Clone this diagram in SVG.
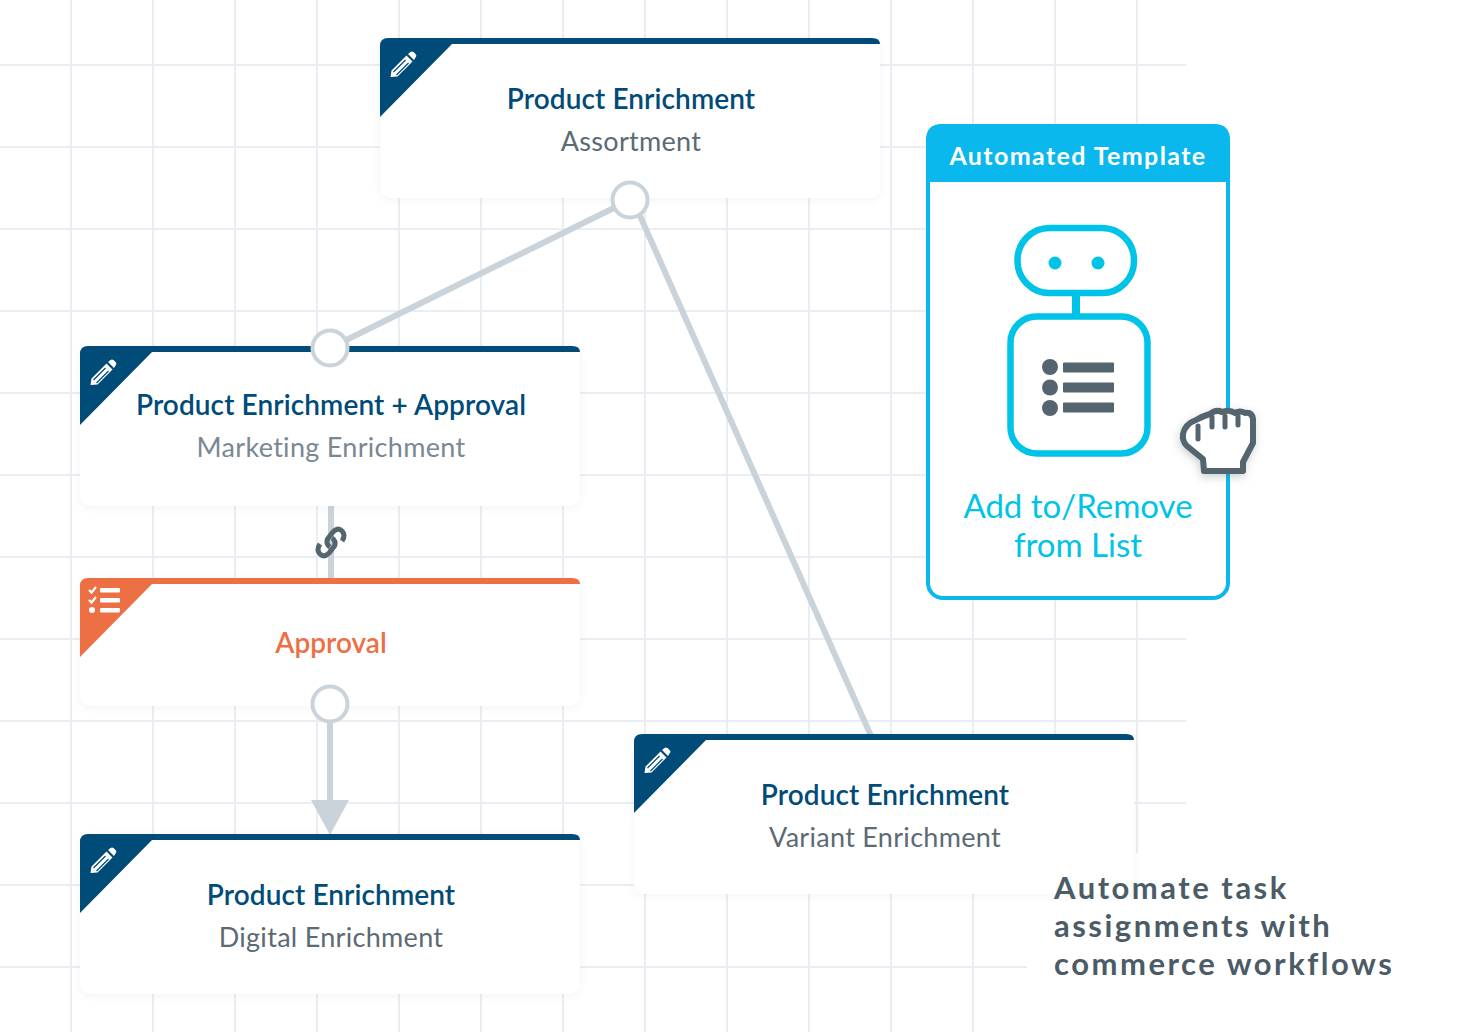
<svg xmlns="http://www.w3.org/2000/svg" width="1480" height="1032" viewBox="0 0 1480 1032">
<style>
text{font-family:"Lato","Liberation Sans",sans-serif;text-anchor:middle}
.grid line{stroke:#eaeef2;stroke-width:2}
.card{fill:#fff;filter:url(#soft)}
.t{font-size:28px;font-weight:600;fill:#004b78;letter-spacing:.1px}
.s{font-size:27px;fill:#5b6a74;letter-spacing:.3px}
.blue{fill:#004b78}
.conn{stroke:#c9d3d9;stroke-width:6;fill:none}
.port{fill:#fff;stroke:#c9d3d9;stroke-width:4}
.cy{stroke:#00c3e8;stroke-width:6.5;fill:#fff}
.gr{fill:#54656f}
.note{font-size:31px;font-weight:700;fill:#4b5c67;letter-spacing:2.5px;text-anchor:start}
.add{font-size:33px;fill:#00c3e8}
</style>
<defs>
<filter id="soft" x="-5%" y="-10%" width="110%" height="125%"><feDropShadow dx="0" dy="2" stdDeviation="3" flood-color="#5b6a74" flood-opacity="0.08"/></filter>
<filter id="hs" x="-30%" y="-30%" width="160%" height="160%"><feDropShadow dx="-1" dy="3" stdDeviation="4" flood-color="#54656f" flood-opacity="0.3"/></filter>
<g id="pencil"><path d="M-11,11 L-10,4.5 L5,-10.5 L11,-4.5 L-4,10.5 Z M6.5,-12 L9,-14 Q10.5,-15 12,-14 L14.5,-11.5 Q15.5,-10 14,-8.5 L12.5,-6 Z" fill="#fff"/><path d="M-8,6 L4,-6 M-5,9 L7,-3" stroke="#004b78" stroke-width="1.2" fill="none"/></g>
</defs>
<rect width="1480" height="1032" fill="#fff"/>
<g class="grid">
<line x1="71" y1="0" x2="71" y2="1032"/><line x1="153" y1="0" x2="153" y2="1032"/><line x1="235" y1="0" x2="235" y2="1032"/><line x1="317" y1="0" x2="317" y2="1032"/><line x1="399" y1="0" x2="399" y2="1032"/><line x1="481" y1="0" x2="481" y2="1032"/><line x1="563" y1="0" x2="563" y2="1032"/><line x1="645" y1="0" x2="645" y2="1032"/><line x1="727" y1="0" x2="727" y2="1032"/><line x1="809" y1="0" x2="809" y2="1032"/><line x1="891" y1="0" x2="891" y2="1032"/><line x1="973" y1="0" x2="973" y2="1032"/><line x1="1055" y1="0" x2="1055" y2="1032"/><line x1="1137" y1="0" x2="1137" y2="1032"/>
<line x1="0" y1="65" x2="1186" y2="65"/><line x1="0" y1="147" x2="1186" y2="147"/><line x1="0" y1="229" x2="1186" y2="229"/><line x1="0" y1="311" x2="1186" y2="311"/><line x1="0" y1="393" x2="1186" y2="393"/><line x1="0" y1="475" x2="1186" y2="475"/><line x1="0" y1="557" x2="1186" y2="557"/><line x1="0" y1="639" x2="1186" y2="639"/><line x1="0" y1="721" x2="1186" y2="721"/><line x1="0" y1="803" x2="1186" y2="803"/><line x1="0" y1="885" x2="1186" y2="885"/><line x1="0" y1="967" x2="1186" y2="967"/>
</g>
<rect x="1027" y="853" width="453" height="179" fill="#fff"/>

<g id="connectors">
<line class="conn" x1="630" y1="200" x2="330" y2="348"/>
<line class="conn" x1="633" y1="200" x2="871" y2="736"/>
<line class="conn" x1="331" y1="504" x2="331" y2="580"/>
<line class="conn" x1="330" y1="704" x2="330" y2="802"/>
<path d="M311,800 L349,800 L330,835 Z" fill="#c9d3d9"/>
</g>

<g id="node-assortment">
<rect class="card" x="380" y="38" width="500" height="160" rx="10"/>
<path class="blue" d="M380,117 L380,46 Q380,38 388,38 L872,38 Q880,38 880,44 L452,44 Z"/>
<use href="#pencil" x="401.500" y="66"/>
<text class="t" x="631" y="109">Product Enrichment</text>
<text class="s" x="631" y="151">Assortment</text>
<circle class="port" cx="630" cy="200" r="17.500"/>
</g>

<g id="node-marketing">
<rect class="card" x="80" y="346" width="500" height="160" rx="10"/>
<path class="blue" d="M80,425 L80,354 Q80,346 88,346 L572,346 Q580,346 580,352 L152,352 Z"/>
<use href="#pencil" x="101.500" y="374"/>
<text class="t" x="331" y="415">Product Enrichment + Approval</text>
<text class="s" x="331" y="457" style="fill:#7a8892">Marketing Enrichment</text>
<circle class="port" cx="330" cy="348" r="17.500"/>
</g>

<g id="node-approval">
<rect class="card" x="80" y="578" width="500" height="128" rx="10"/>
<path fill="#ec7044" d="M80,657 L80,586 Q80,578 88,578 L572,578 Q580,578 580,584 L152,584 Z"/>
<g fill="#fff"><rect x="100" y="588" width="20" height="4.500" rx="1"/><rect x="100" y="598" width="20" height="4.500" rx="1"/><rect x="100" y="608" width="20" height="4.500" rx="1"/><circle cx="92" cy="610" r="3"/></g>
<path d="M89,590 L91.500,592.500 L96,587 M89,600 L91.500,602.500 L96,597" stroke="#fff" stroke-width="2.200" fill="none"/>
<text x="331" y="653" style="font-size:28px;font-weight:600;fill:#ec7044">Approval</text>
<circle class="port" cx="330" cy="704" r="17.500"/>
</g>

<g id="link-icon" fill="none" stroke="#54656f" stroke-width="5" stroke-linecap="butt">
<path d="M342,541 Q346,535 342,531 Q338,527 333,532 L327.500,539 Q325.500,544 330,547"/>
<path d="M320,544 Q316,550 320,554 Q324,558 329,553 L334.500,546 Q336.500,541 332,538"/>
</g>

<g id="node-digital">
<rect class="card" x="80" y="834" width="500" height="160" rx="10"/>
<path class="blue" d="M80,913 L80,842 Q80,834 88,834 L572,834 Q580,834 580,840 L152,840 Z"/>
<use href="#pencil" x="101.500" y="862"/>
<text class="t" x="331" y="905">Product Enrichment</text>
<text class="s" x="331" y="947">Digital Enrichment</text>
</g>

<g id="node-variant">
<rect class="card" x="634" y="734" width="500" height="160" rx="10"/>
<path class="blue" d="M634,813 L634,742 Q634,734 642,734 L1126,734 Q1134,734 1134,740 L706,740 Z"/>
<use href="#pencil" x="655.500" y="762"/>
<text class="t" x="885" y="805">Product Enrichment</text>
<text class="s" x="885" y="847">Variant Enrichment</text>
</g>

<g id="node-template">
<rect x="928" y="126" width="300" height="472" rx="15" fill="#fff" stroke="#0ab8ee" stroke-width="4"/>
<path d="M926,182 L926,140 Q926,124 942,124 L1214,124 Q1230,124 1230,140 L1230,182 Z" fill="#0ab8ee"/>
<text x="1078" y="165" style="font-size:25px;font-weight:700;fill:#fff;letter-spacing:1.400px">Automated Template</text>
<rect class="cy" x="1017.500" y="228" width="116.500" height="65" rx="32"/>
<circle cx="1055" cy="263" r="6.500" fill="#00c3e8"/><circle cx="1098" cy="263" r="6.500" fill="#00c3e8"/>
<rect x="1072" y="295" width="8" height="20" fill="#00c3e8"/>
<rect class="cy" x="1010.500" y="316.500" width="137" height="137" rx="26"/>
<circle class="gr" cx="1050" cy="367" r="8"/><circle class="gr" cx="1050" cy="387.500" r="8"/><circle class="gr" cx="1050" cy="408" r="8"/>
<rect class="gr" x="1063" y="362.500" width="51" height="10" rx="1"/><rect class="gr" x="1063" y="382.500" width="51" height="10" rx="1"/><rect class="gr" x="1063" y="402.500" width="51" height="10" rx="1"/>
<text class="add" x="1078" y="518">Add to/Remove</text>
<text class="add" x="1078" y="557">from List</text>
</g>

<g id="hand" filter="url(#hs)">
<path d="M1204,471 L1243,471 L1243,462 L1253,443 L1253,419 Q1252,412 1245,413 Q1240,410 1235,413 Q1229,409 1222,412 Q1216,409 1210,414 Q1203,416 1196,420 Q1185,424 1183,434 Q1182,441 1187,446 L1203,459 Z" fill="#fff" stroke="#54656f" stroke-width="6" stroke-linejoin="round"/>
<path d="M1198,439 L1198,426 M1212,427 L1212,417 M1225,427 L1225,416 M1238,425 L1238,416" stroke="#54656f" stroke-width="5" stroke-linecap="round" fill="none"/>
</g>

<text class="note" x="1054" y="899">Automate task</text>
<text class="note" x="1054" y="937">assignments with</text>
<text class="note" x="1054" y="975">commerce workflows</text>
</svg>
